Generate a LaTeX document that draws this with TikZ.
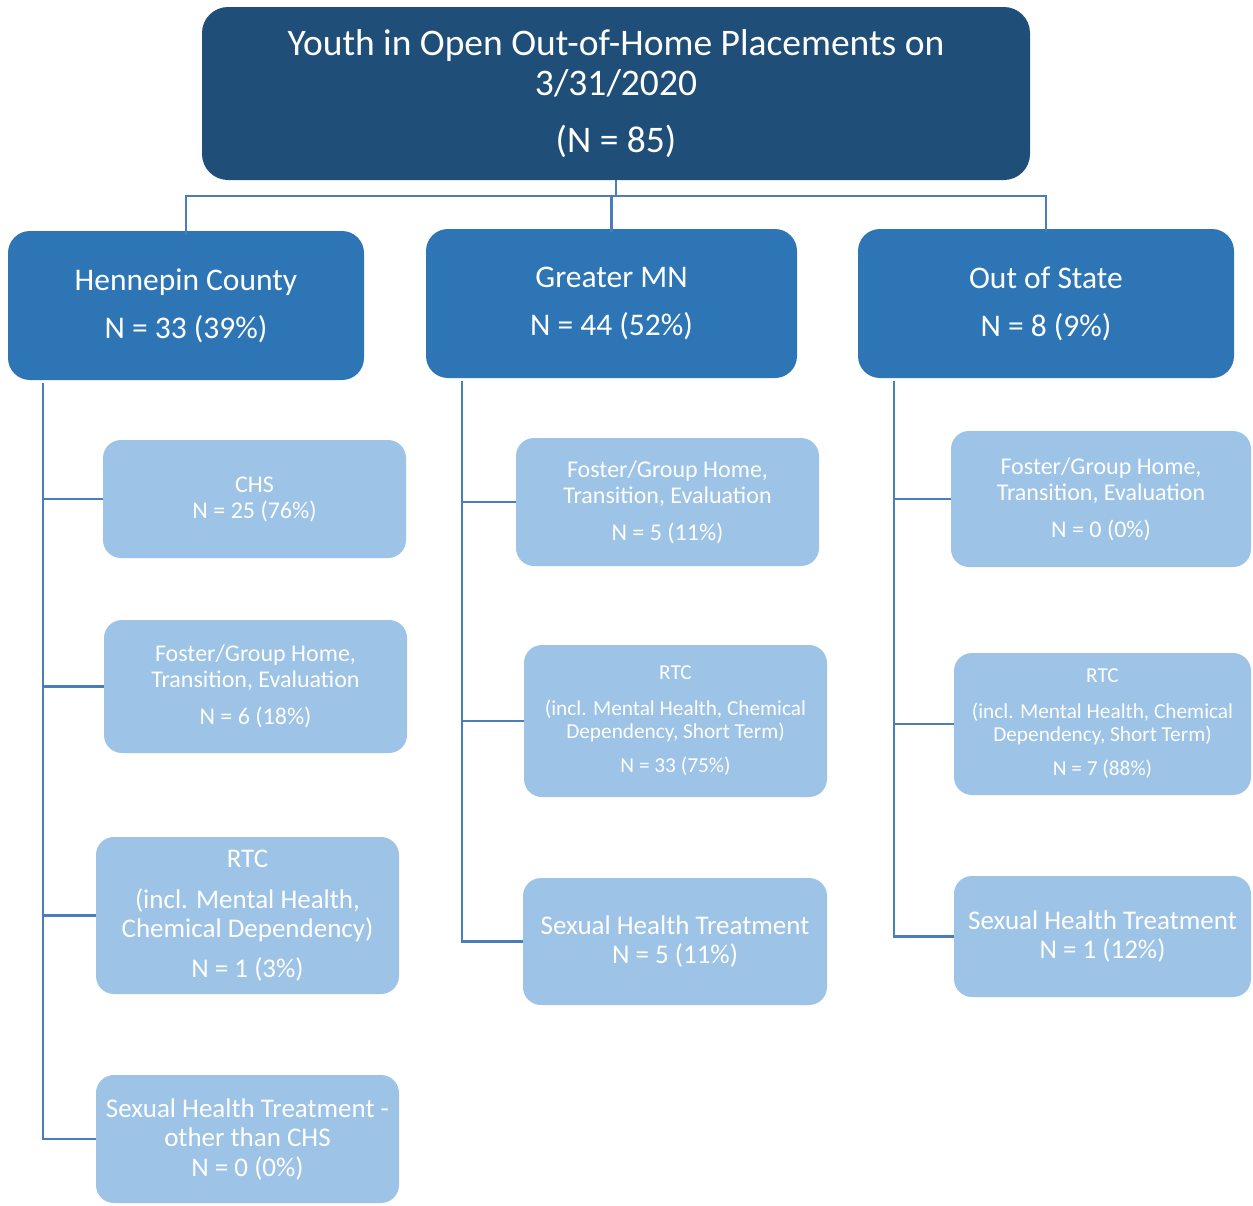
\documentclass[tikz,border=0pt]{standalone}
\usepackage{fontspec}
\setmainfont{Carlito}
\definecolor{topc}{RGB}{31,78,121}
\definecolor{midc}{RGB}{46,117,182}
\definecolor{lightc}{RGB}{157,195,230}
\definecolor{connc}{RGB}{74,126,187}
\tikzset{
  topbox/.style={fill=topc, rounded corners=26pt, text=white, align=center, inner sep=0pt},
  midbox/.style={fill=midc, rounded corners=22pt, text=white, align=center, inner sep=0pt, font=\fontsize{31.5}{34}\selectfont},
  leafbox/.style={fill=lightc, rounded corners=18pt, text=white, align=center, inner sep=0pt},
  conn/.style={draw=connc, line width=2.8pt},
  fa/.style={font=\fontsize{24}{26}\selectfont},
  fb/.style={font=\fontsize{21.3}{23}\selectfont},
  fc/.style={font=\fontsize{27}{29.5}\selectfont},
}
\begin{document}
\begin{tikzpicture}[x=1pt,y=-1pt]
\useasboundingbox (0,0) rectangle (1253,1205);
% top
\node[topbox, minimum width=828pt, minimum height=173pt, font=\fontsize{37.5}{40}\selectfont] (top) at (616,93.5)
  {Youth in Open Out-of-Home Placements on\\3/31/2020\\[17pt](N = 85)};
% level 2
\node[midbox, minimum width=356pt, minimum height=149pt] (hen) at (186,305.5) {Hennepin County\\[14pt]N = 33 (39\%)};
\node[midbox, minimum width=371pt, minimum height=149pt] (gmn) at (611.5,303.5) {Greater MN\\[14pt]N = 44 (52\%)};
\node[midbox, minimum width=376pt, minimum height=149pt] (oos) at (1046,303.5) {Out of State\\[14pt]N = 8 (9\%)};
% left column
\node[leafbox, fa, minimum width=303pt, minimum height=118pt] (L1) at (254.5,499) {CHS\\N = 25 (76\%)};
\node[leafbox, fa, minimum width=303pt, minimum height=133pt] (L2) at (255.5,686.5) {Foster/Group Home,\\Transition, Evaluation\\[11pt]N = 6 (18\%)};
\node[leafbox, fc, minimum width=303pt, minimum height=157pt] (L3) at (247.5,915.5) {RTC\\[11pt](incl. Mental Health,\\Chemical Dependency)\\[10pt]N = 1 (3\%)};
\node[leafbox, fc, minimum width=303pt, minimum height=128pt] (L4) at (247.5,1139) {Sexual Health Treatment -\\other than CHS\\N = 0 (0\%)};
% middle column
\node[leafbox, fa, minimum width=303pt, minimum height=128pt] (M1) at (667.5,502) {Foster/Group Home,\\Transition, Evaluation\\[11pt]N = 5 (11\%)};
\node[leafbox, fb, minimum width=303pt, minimum height=152pt] (M2) at (675.5,721) {RTC\\[13pt](incl. Mental Health, Chemical\\Dependency, Short Term)\\[11pt]N = 33 (75\%)};
\node[leafbox, fc, minimum width=304pt, minimum height=127pt] (M3) at (675,941.5) {Sexual Health Treatment\\N = 5 (11\%)};
% right column
\node[leafbox, fa, minimum width=300pt, minimum height=136pt] (R1) at (1101,499) {Foster/Group Home,\\Transition, Evaluation\\[11pt]N = 0 (0\%)};
\node[leafbox, fb, minimum width=297pt, minimum height=142pt] (R2) at (1102.5,724) {RTC\\[13pt](incl. Mental Health, Chemical\\Dependency, Short Term)\\[11pt]N = 7 (88\%)};
\node[leafbox, fc, minimum width=297pt, minimum height=121pt] (R3) at (1102.5,936.5) {Sexual Health Treatment\\N = 1 (12\%)};
% connectors top
\coordinate (bus) at (616,196);
\draw[conn] (top.south) -- (bus);
\draw[conn] (bus) -| ([yshift=-4pt]hen.north);
\draw[conn] (bus) -| ([yshift=-3pt]gmn.north);
\draw[conn] (bus) -| ([yshift=-3pt]oos.north);
% spines
\coordinate (hs) at (43,383);
\coordinate (gs) at (462,381);
\coordinate (os) at (894,381);
\draw[conn] (hs) |- (L1.west);
\draw[conn] (hs) |- (L2.west);
\draw[conn] (hs) |- (L3.west);
\draw[conn] (hs) |- (L4.west);
\draw[conn] (gs) |- (M1.west);
\draw[conn] (gs) |- (M2.west);
\draw[conn] (gs) |- (M3.west);
\draw[conn] (os) |- (R1.west);
\draw[conn] (os) |- (R2.west);
\draw[conn] (os) |- (R3.west);
\end{tikzpicture}
\end{document}
